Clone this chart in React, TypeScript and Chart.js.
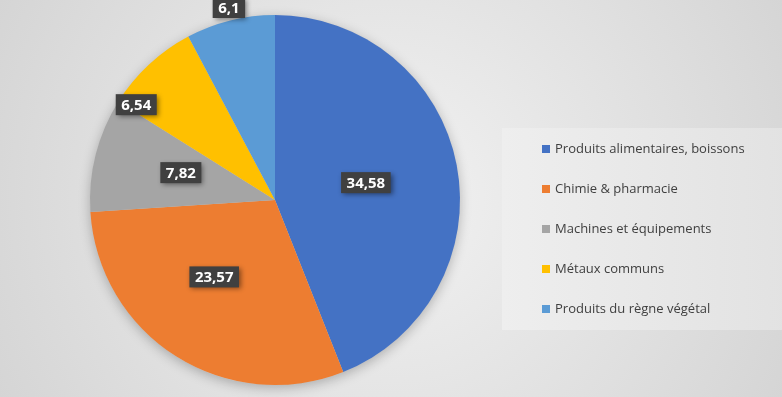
import React, { useEffect, useRef } from "react";
import { Chart, registerables } from "chart.js";

Chart.register(...registerables);

const categories = [
  "Produits alimentaires, boissons",
  "Chimie & pharmacie",
  "Machines et équipements",
  "Métaux communs",
  "Produits du règne végétal",
];
const values = [34.58, 23.57, 7.82, 6.54, 6.1];
const colors = ["#4472C4", "#ED7D31", "#A5A5A5", "#FFC000", "#5B9BD5"];
// label placement (style only): radial fraction and angular nudge (deg)
const labelRadius = [0.5, 0.53, 0.53, 0.91, 1.07];
const labelNudge = [0, 6, 2, -12.6, 0.5];

const fmt = (v: number) => v.toString().replace(".", ",");

const bgPlugin = {
  id: "bg",
  beforeDraw(chart: any) {
    const { ctx, width, height } = chart;
    ctx.save();
    const g = ctx.createRadialGradient(width / 2, height / 2, 0, width / 2, height / 2, width * 0.62);
    g.addColorStop(0, "#f2f2f2");
    g.addColorStop(1, "#d2d2d2");
    ctx.fillStyle = g;
    ctx.fillRect(0, 0, width, height);
    // legend box
    const lx = 502, ly = 128, lw = 290, lh = 202;
    const lg = ctx.createLinearGradient(lx, 0, lx + lw, 0);
    lg.addColorStop(0, "#eeeeee");
    lg.addColorStop(1, "#e2e2e2");
    ctx.fillStyle = lg;
    ctx.fillRect(lx, ly, lw, lh);
    ctx.restore();
  },
  beforeDatasetsDraw(chart: any) {
    const meta = chart.getDatasetMeta(0);
    const a = meta.data[0];
    if (!a) return;
    const { ctx } = chart;
    ctx.save();
    ctx.shadowColor = "rgba(0,0,0,0.25)";
    ctx.shadowBlur = 12;
    ctx.shadowOffsetY = 3;
    ctx.beginPath();
    ctx.arc(a.x, a.y, a.outerRadius, 0, Math.PI * 2);
    ctx.fillStyle = "#cccccc";
    ctx.fill();
    ctx.restore();
  },
  afterDatasetsDraw(chart: any) {
    const { ctx } = chart;
    const meta = chart.getDatasetMeta(0);
    const ds = chart.data.datasets[0];
    meta.data.forEach((arc: any, i: number) => {
      const mid = (arc.startAngle + arc.endAngle) / 2 + (labelNudge[i] * Math.PI) / 180;
      const r = arc.outerRadius * labelRadius[i];
      const x = arc.x + Math.cos(mid) * r;
      const y = arc.y + Math.sin(mid) * r;
      const text = fmt(ds.data[i]);
      ctx.save();
      ctx.font = "bold 15px 'Open Sans', 'DejaVu Sans', sans-serif";
      const tw = ctx.measureText(text).width;
      const w = tw + 11, h = 21;
      ctx.shadowColor = "rgba(0,0,0,0.45)";
      ctx.shadowBlur = 5;
      ctx.shadowOffsetX = 2;
      ctx.shadowOffsetY = 2;
      ctx.fillStyle = "#404040";
      ctx.fillRect(x - w / 2, y - h / 2, w, h);
      ctx.shadowColor = "transparent";
      ctx.fillStyle = "#ffffff";
      ctx.textAlign = "center";
      ctx.textBaseline = "middle";
      ctx.fillText(text, x, y + 1);
      ctx.restore();
    });
    // legend
    ctx.save();
    ctx.font = "13px 'Open Sans', 'DejaVu Sans', sans-serif";
    ctx.textBaseline = "middle";
    chart.data.labels.forEach((lab: string, i: number) => {
      const y = 149 + i * 40;
      ctx.fillStyle = colors[i];
      ctx.fillRect(542, y - 4, 8, 8);
      ctx.fillStyle = "#404040";
      ctx.fillText(lab, 555, y);
    });
    ctx.restore();
  },
};

export default function App() {
  const ref = useRef<HTMLCanvasElement>(null);
  useEffect(() => {
    document.body.style.margin = "0";
    const chart = new Chart(ref.current!, {
      type: "pie",
      data: {
        labels: categories,
        datasets: [
          {
            data: values,
            backgroundColor: colors,
            borderWidth: 0,
          },
        ],
      },
      options: {
        responsive: false,
        animation: false,
        layout: { padding: { left: 90, right: 322, top: 15, bottom: 12 } },
        plugins: { legend: { display: false }, tooltip: { enabled: false } },
      },
      plugins: [bgPlugin],
    });
    return () => chart.destroy();
  }, []);
  return <canvas ref={ref} width={782} height={397} style={{ display: "block" }} />;
}
